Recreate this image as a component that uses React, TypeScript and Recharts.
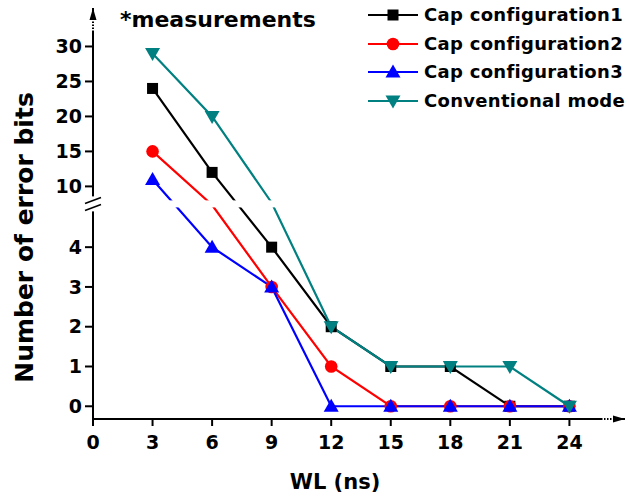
import {
  LineChart,
  Line,
  XAxis,
  YAxis,
  Legend,
  Label,
  ReferenceArea,
  ReferenceDot,
} from "recharts";

const WL = [3, 6, 9, 12, 15, 18, 21, 24];
const CAP1 = [24, 12, 4, 2, 1, 1, 0, 0];
const CAP2 = [15, 6, 3, 1, 0, 0, 0, 0];
const CAP3 = [11, 4, 3, 0, 0, 0, 0, 0];
const CONV = [29, 20, 7, 2, 1, 1, 1, 0];

const X_TICKS = [0, 3, 6, 9, 12, 15, 18, 21, 24];
const Y_TICKS = [0, 1, 2, 3, 4, 10, 15, 20, 25, 30];

// axis break between these values
const BREAK_LO = 5;
const BREAK_HI = 8;
const X_MAX = 26.8;
const Y_MIN = -0.32;
const Y_MAX = 35.5;

const FONT = "'DejaVu Sans', Arial, sans-serif";

const SERIES = [
  { key: "cap1", name: "Cap configuration1", color: "#000000", shape: "square", values: CAP1 },
  { key: "cap2", name: "Cap configuration2", color: "#ff0000", shape: "circle", values: CAP2 },
  { key: "cap3", name: "Cap configuration3", color: "#0000ff", shape: "up", values: CAP3 },
  { key: "conv", name: "Conventional mode", color: "#008080", shape: "down", values: CONV },
];

const data = WL.map((wl, i) => {
  const row: Record<string, number> = { wl };
  SERIES.forEach((s) => {
    row[s.key] = s.values[i];
  });
  return row;
});

// piecewise linear scale: lower part stretched, upper part compressed
const LOW_UNIT = 39.8;
const HIGH_UNIT = 7;
const GAP = 7;

const toDisplay = (v: number) => {
  if (v <= BREAK_LO) return v * LOW_UNIT;
  if (v < BREAK_HI) return BREAK_LO * LOW_UNIT + ((v - BREAK_LO) / (BREAK_HI - BREAK_LO)) * GAP;
  return BREAK_LO * LOW_UNIT + GAP + (v - BREAK_HI) * HIGH_UNIT;
};

const brokenScale = (): any => {
  let dom = [Y_MIN, Y_MAX];
  let rng = [0, 1];
  const scale: any = (v: number) => {
    const d0 = toDisplay(dom[0]);
    const d1 = toDisplay(dom[1]);
    return rng[0] + ((toDisplay(Number(v)) - d0) / (d1 - d0)) * (rng[1] - rng[0]);
  };
  scale.domain = (d?: number[]) => {
    if (d === undefined) return dom.slice();
    dom = [Number(d[0]), Number(d[d.length - 1])];
    return scale;
  };
  scale.range = (r?: number[]) => {
    if (r === undefined) return rng.slice();
    rng = [Number(r[0]), Number(r[r.length - 1])];
    return scale;
  };
  scale.copy = () => brokenScale().domain(dom).range(rng);
  scale.ticks = () => Y_TICKS;
  scale.clamp = () => scale;
  return scale;
};

const marker = (shape: string, cx: number, cy: number, color: string, key?: string) => {
  if (shape === "square")
    return <rect key={key} x={cx - 5.5} y={cy - 5.5} width={11} height={11} fill={color} />;
  if (shape === "circle") return <circle key={key} cx={cx} cy={cy} r={6.3} fill={color} />;
  if (shape === "up")
    return (
      <polygon
        key={key}
        points={`${cx},${cy - 7.5} ${cx - 7.5},${cy + 5.5} ${cx + 7.5},${cy + 5.5}`}
        fill={color}
      />
    );
  return (
    <polygon
      key={key}
      points={`${cx},${cy + 7.5} ${cx - 7.5},${cy - 5.5} ${cx + 7.5},${cy - 5.5}`}
      fill={color}
    />
  );
};

const makeDot = (shape: string, color: string, name: string) => (props: any) => {
  const { cx, cy, value, index } = props;
  const k = `${name}-${index}`;
  // points that fall inside the axis break are hidden
  if (value > BREAK_LO && value < BREAK_HI) return <g key={k} />;
  return marker(shape, cx, cy, color, k);
};

const renderLegend = () => (
  <div style={{ fontFamily: FONT, fontWeight: "bold", fontSize: 18, color: "#000" }}>
    {SERIES.map((s) => (
      <div key={s.key} style={{ display: "flex", alignItems: "center", height: 28.5 }}>
        <svg width={52} height={20}>
          <line x1={1} y1={10} x2={51} y2={10} stroke={s.color} strokeWidth={2.2} />
          {marker(s.shape, 26, 10, s.color)}
        </svg>
        <span style={{ marginLeft: 5, lineHeight: "20px", whiteSpace: "nowrap", letterSpacing: 0.3 }}>
          {s.name}
        </span>
      </div>
    ))}
  </div>
);

const BreakShape = (props: any) => {
  const { x, y, width, height } = props;
  return (
    <g>
      <rect x={x} y={y} width={width} height={height} fill="#fff" />
      <rect x={x - 6} y={y - 4} width={12} height={height + 8} fill="#fff" />
      <line x1={x - 8} y1={y + 3} x2={x + 8} y2={y - 3} stroke="#000" strokeWidth={1.6} />
      <line
        x1={x - 8}
        y1={y + height + 3}
        x2={x + 8}
        y2={y + height - 3}
        stroke="#000"
        strokeWidth={1.6}
      />
    </g>
  );
};

const UpArrow = (props: any) => {
  const { cx, cy } = props;
  return (
    <g>
      <polygon points={`${cx},${cy} ${cx - 3.5},${cy + 12} ${cx + 3.5},${cy + 12}`} fill="#000" />
      <line x1={cx} y1={cy + 12} x2={cx} y2={cy + 24} stroke="#fff" strokeWidth={2.4} strokeDasharray="1.5 1.5" />
    </g>
  );
};

const RightArrow = (props: any) => {
  const { cx, cy } = props;
  return (
    <g>
      <polygon points={`${cx},${cy} ${cx - 12},${cy - 3.5} ${cx - 12},${cy + 3.5}`} fill="#000" />
      <line x1={cx - 12} y1={cy} x2={cx - 24} y2={cy} stroke="#fff" strokeWidth={2.4} strokeDasharray="1.5 1.5" />
    </g>
  );
};

const YTitle = (props: any) => {
  const vb = props.viewBox || { x: 0, y: 8, width: 93, height: 411 };
  const x = vb.x + 33;
  const y = vb.y + vb.height / 2 + 24;
  return (
    <text
      transform={`translate(${x}, ${y}) rotate(-90)`}
      textAnchor="middle"
      fontFamily={FONT}
      fontWeight="bold"
      fontSize={25}
      fill="#000"
    >
      Number of error bits
    </text>
  );
};

const XTitle = (props: any) => {
  const vb = props.viewBox || { x: 93, y: 419, width: 532, height: 79 };
  return (
    <text
      x={vb.x + 242}
      y={vb.y + 70}
      textAnchor="middle"
      fontFamily={FONT}
      fontWeight="bold"
      fontSize={21}
      fill="#000"
    >
      WL (ns)
    </text>
  );
};

const tickStyle = { fill: "#000", fontSize: 19, fontWeight: "bold", fontFamily: FONT };

export default function App() {
  return (
    <div style={{ position: "absolute", left: 0, top: 0, fontFamily: FONT, background: "#fff" }}>
      <LineChart
        width={629}
        height={498}
        data={data}
        margin={{ top: 8, right: 4, bottom: 0, left: 0 }}
      >
        <XAxis
          dataKey="wl"
          type="number"
          domain={[0, X_MAX]}
          ticks={X_TICKS}
          interval={0}
          height={79}
          tickSize={7}
          tickMargin={10}
          tick={tickStyle}
          axisLine={{ stroke: "#000", strokeWidth: 2 }}
          tickLine={{ stroke: "#000", strokeWidth: 2 }}
        >
          <Label content={XTitle} />
        </XAxis>
        <YAxis
          type="number"
          scale={brokenScale()}
          domain={[Y_MIN, Y_MAX]}
          ticks={Y_TICKS}
          interval={0}
          width={93}
          tickSize={8}
          tickMargin={3}
          tick={tickStyle}
          axisLine={{ stroke: "#000", strokeWidth: 2 }}
          tickLine={{ stroke: "#000", strokeWidth: 2 }}
        >
          <Label content={YTitle} />
        </YAxis>
        <Legend
          layout="horizontal"
          verticalAlign="middle"
          align="center"
          content={renderLegend}
          wrapperStyle={{ top: 1, left: 367, width: 262, bottom: "auto", right: "auto" }}
        />
        {SERIES.map((s) => (
          <Line
            key={s.key}
            type="linear"
            dataKey={s.key}
            name={s.name}
            stroke={s.color}
            strokeWidth={2.2}
            dot={makeDot(s.shape, s.color, s.key)}
            activeDot={false}
            isAnimationActive={false}
          />
        ))}
        <ReferenceArea
          y1={BREAK_LO}
          y2={BREAK_HI}
          x1={0}
          x2={X_MAX}
          shape={BreakShape}
          zIndex={1500}
        />
        <ReferenceDot x={0} y={Y_MAX} r={4} shape={UpArrow} ifOverflow="visible" zIndex={1500} />
        <ReferenceDot x={X_MAX} y={Y_MIN} r={4} shape={RightArrow} ifOverflow="visible" zIndex={1500} />
        <text x={120} y={27} fontFamily={FONT} fontWeight="bold" fontSize={22} fill="#000">
          *measurements
        </text>
      </LineChart>
    </div>
  );
}
